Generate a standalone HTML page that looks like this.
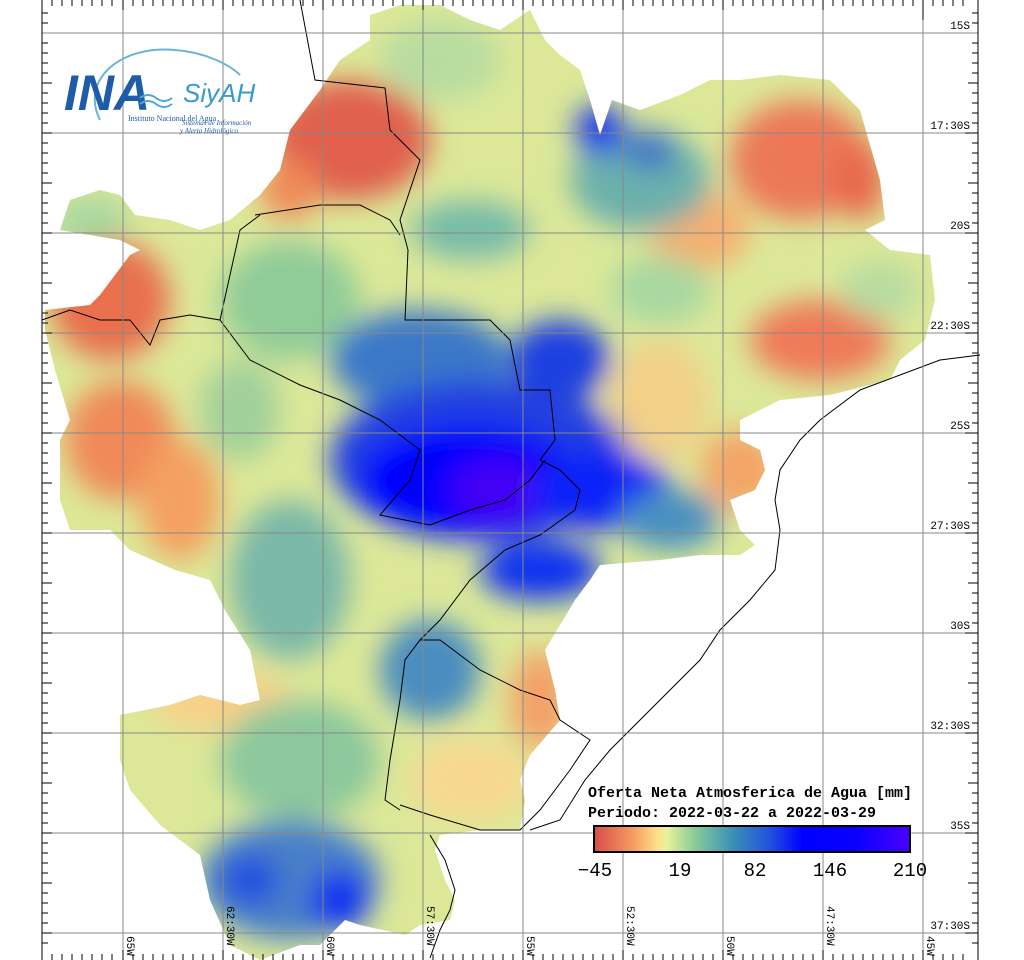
<!DOCTYPE html>
<html><head><meta charset="utf-8"><style>
body{margin:0;background:#fff;width:1024px;height:960px;overflow:hidden}
svg{display:block}
text{font-family:"Liberation Mono","DejaVu Sans Mono",monospace}
</style></head><body>
<svg width="1024" height="960" viewBox="0 0 1024 960" xmlns="http://www.w3.org/2000/svg">
<defs>
<clipPath id="basin"><polygon points="370,15 400,5 440,5 470,20 500,30 530,10 545,40 560,55 580,70 590,100 600,135 612,100 640,110 680,95 710,80 740,80 780,75 830,80 860,110 880,180 885,220 865,230 890,250 930,255 935,300 925,340 900,360 890,380 830,395 780,400 740,420 740,440 760,450 765,470 755,490 730,500 740,530 755,545 740,555 700,555 660,560 600,565 590,580 575,600 560,625 545,650 555,690 560,720 530,755 520,780 525,800 520,830 480,830 440,835 435,850 445,880 455,900 450,920 420,925 405,935 360,925 345,920 320,945 300,945 260,960 230,945 210,900 200,855 160,825 130,790 120,760 120,715 170,705 200,695 240,705 260,700 250,650 225,610 210,580 175,570 130,550 110,530 70,530 60,500 60,440 70,420 55,370 45,330 45,310 90,305 100,295 130,255 140,250 120,240 60,230 70,200 100,190 120,195 135,215 170,220 200,230 230,220 260,195 280,170 290,130 320,90 340,60 370,40"/></clipPath>
<filter id="bl" x="-20%" y="-20%" width="140%" height="140%"><feGaussianBlur stdDeviation="14"/></filter>
<linearGradient id="cb" x1="0" x2="1" y1="0" y2="0">
<stop offset="0" stop-color="#d94c4c"/><stop offset="0.12" stop-color="#f49a60"/><stop offset="0.2" stop-color="#fde08a"/><stop offset="0.23" stop-color="#e8f29a"/><stop offset="0.32" stop-color="#88cc98"/><stop offset="0.44" stop-color="#3a8fb8"/><stop offset="0.56" stop-color="#2050e0"/><stop offset="0.66" stop-color="#0000ff"/><stop offset="0.82" stop-color="#0800ff"/><stop offset="1" stop-color="#4a00ff"/>
</linearGradient>
</defs>
<g clip-path="url(#basin)">
<rect x="0" y="0" width="1024" height="960" fill="#dce898"/>
<g filter="url(#bl)">
<ellipse cx="440" cy="60" rx="60" ry="40" fill="#b8dca0"/>
<ellipse cx="350" cy="140" rx="80" ry="60" fill="#e0604e"/>
<ellipse cx="290" cy="190" rx="30" ry="30" fill="#f08a58"/>
<ellipse cx="110" cy="300" rx="60" ry="60" fill="#e8704e"/>
<ellipse cx="120" cy="440" rx="55" ry="60" fill="#f08a58"/>
<ellipse cx="180" cy="500" rx="40" ry="60" fill="#f4a060"/>
<ellipse cx="90" cy="220" rx="40" ry="25" fill="#a8d8a0"/>
<ellipse cx="800" cy="160" rx="70" ry="60" fill="#ec7858"/>
<ellipse cx="860" cy="180" rx="25" ry="40" fill="#e8684e"/>
<ellipse cx="700" cy="230" rx="50" ry="40" fill="#f4b070"/>
<ellipse cx="820" cy="340" rx="70" ry="40" fill="#ee7a58"/>
<ellipse cx="880" cy="290" rx="40" ry="30" fill="#b8dca0"/>
<ellipse cx="740" cy="470" rx="40" ry="40" fill="#f4a468"/>
<ellipse cx="660" cy="400" rx="50" ry="60" fill="#f2d088"/>
<ellipse cx="660" cy="290" rx="50" ry="35" fill="#a8d8a0"/>
<ellipse cx="540" cy="700" rx="30" ry="50" fill="#f4a068"/>
<ellipse cx="470" cy="780" rx="60" ry="40" fill="#f8d890"/>
<ellipse cx="220" cy="700" rx="70" ry="30" fill="#f8d088"/>
<ellipse cx="290" cy="300" rx="70" ry="60" fill="#90cc98"/>
<ellipse cx="240" cy="410" rx="40" ry="50" fill="#a0d09a"/>
<ellipse cx="470" cy="230" rx="60" ry="30" fill="#78bca8"/>
<ellipse cx="640" cy="180" rx="70" ry="50" fill="#6cb0ac"/>
<ellipse cx="600" cy="130" rx="25" ry="25" fill="#1a38e8"/>
<ellipse cx="650" cy="150" rx="25" ry="20" fill="#3a70c8"/>
<ellipse cx="290" cy="580" rx="60" ry="80" fill="#7ab8a8"/>
<ellipse cx="430" cy="670" rx="50" ry="50" fill="#4a8cc0"/>
<ellipse cx="300" cy="760" rx="80" ry="60" fill="#8cc89c"/>
<ellipse cx="290" cy="880" rx="90" ry="60" fill="#4a80c8"/>
<ellipse cx="340" cy="900" rx="30" ry="30" fill="#0a30f0"/>
<ellipse cx="250" cy="880" rx="30" ry="25" fill="#2050e0"/>
<ellipse cx="420" cy="360" rx="90" ry="50" fill="#3a78c8"/>
<ellipse cx="560" cy="360" rx="50" ry="40" fill="#1a40e0"/>
<ellipse cx="480" cy="460" rx="150" ry="80" fill="#2040e0"/>
<ellipse cx="470" cy="480" rx="110" ry="55" fill="#0000ff"/>
<ellipse cx="500" cy="490" rx="50" ry="30" fill="#4400f4"/>
<ellipse cx="600" cy="490" rx="70" ry="40" fill="#0a20f8"/>
<ellipse cx="540" cy="570" rx="60" ry="30" fill="#0a30f0"/>
<ellipse cx="670" cy="520" rx="50" ry="30" fill="#4a90c0"/>
</g>
</g>
<g fill="none" stroke="#000" stroke-width="1">
<polyline points="300,0 315,80 385,88 390,130 420,160 400,220 408,250 405,320 460,320 490,320 510,340 520,390 550,390 555,440 540,460 560,470 580,490 575,510 540,535 505,550"/>
<polyline points="255,215 320,205 360,205 390,220 400,235"/>
<polyline points="220,320 250,360 300,385 340,400 380,420 400,435 420,450 410,480 380,515 430,525 470,510 505,500 530,480 545,460"/>
<polyline points="505,550 470,580 440,620 420,640 405,660 400,700 390,760 385,800 400,810"/>
<polyline points="420,640 440,640 480,670 520,690 550,700 560,720 590,740 570,770 540,810 520,830 480,830 430,815 400,805"/>
<polyline points="980,355 940,360 900,375 860,390 820,420 800,440 780,470 775,500 780,530 775,570 750,600 720,630 700,660 670,690 640,720 610,750 585,780 560,820 530,830"/>
<polyline points="42,320 70,310 100,320 130,320 150,345 160,320 190,315 220,320 240,230 260,215"/>
<polyline points="430,835 445,860 455,890 450,910 440,930 430,958"/>
</g>
<g stroke="#888" stroke-width="1">
<line x1="123" y1="0" x2="123" y2="955"/><line x1="223" y1="0" x2="223" y2="955"/><line x1="323" y1="0" x2="323" y2="955"/><line x1="423" y1="0" x2="423" y2="955"/><line x1="523" y1="0" x2="523" y2="955"/><line x1="623" y1="0" x2="623" y2="955"/><line x1="723" y1="0" x2="723" y2="955"/><line x1="823" y1="0" x2="823" y2="955"/><line x1="923" y1="0" x2="923" y2="955"/>
<line x1="42" y1="33" x2="978" y2="33"/><line x1="42" y1="133" x2="978" y2="133"/><line x1="42" y1="233" x2="978" y2="233"/><line x1="42" y1="333" x2="978" y2="333"/><line x1="42" y1="433" x2="978" y2="433"/><line x1="42" y1="533" x2="978" y2="533"/><line x1="42" y1="633" x2="978" y2="633"/><line x1="42" y1="733" x2="978" y2="733"/><line x1="42" y1="833" x2="978" y2="833"/><line x1="42" y1="933" x2="978" y2="933"/>
</g>
<g stroke="#000" stroke-width="1">
<line x1="42" y1="0" x2="42" y2="960"/><line x1="978" y1="0" x2="978" y2="960"/>
</g>
<g stroke="#000" stroke-width="1">
<path d="M42,13h6M42,23h6M42,43h6M42,53h6M42,63h6M42,73h6M42,83h10M42,93h6M42,103h6M42,113h6M42,123h6M42,133h10M42,143h6M42,153h6M42,163h6M42,173h6M42,183h10M42,193h6M42,203h6M42,213h6M42,223h6M42,233h10M42,243h6M42,253h6M42,263h6M42,273h6M42,283h10M42,293h6M42,303h6M42,313h6M42,323h6M42,333h10M42,343h6M42,353h6M42,363h6M42,373h6M42,383h10M42,393h6M42,403h6M42,413h6M42,423h6M42,433h10M42,443h6M42,453h6M42,463h6M42,473h6M42,483h10M42,493h6M42,503h6M42,513h6M42,523h6M42,533h10M42,543h6M42,553h6M42,563h6M42,573h6M42,583h10M42,593h6M42,603h6M42,613h6M42,623h6M42,633h10M42,643h6M42,653h6M42,663h6M42,673h6M42,683h10M42,693h6M42,703h6M42,713h6M42,723h6M42,733h10M42,743h6M42,753h6M42,763h6M42,773h6M42,783h10M42,793h6M42,803h6M42,813h6M42,823h6M42,833h10M42,843h6M42,853h6M42,863h6M42,873h6M42,883h10M42,893h6M42,903h6M42,913h6M42,923h6M42,933h10M42,943h6"/>
<path d="M978,13h-6M978,23h-6M978,43h-6M978,53h-6M978,63h-6M978,73h-6M978,83h-10M978,93h-6M978,103h-6M978,113h-6M978,123h-6M978,133h-13M978,143h-6M978,153h-6M978,163h-6M978,173h-6M978,183h-10M978,193h-6M978,203h-6M978,213h-6M978,223h-6M978,233h-13M978,243h-6M978,253h-6M978,263h-6M978,273h-6M978,283h-10M978,293h-6M978,303h-6M978,313h-6M978,323h-6M978,333h-13M978,343h-6M978,353h-6M978,363h-6M978,373h-6M978,383h-10M978,393h-6M978,403h-6M978,413h-6M978,423h-6M978,433h-13M978,443h-6M978,453h-6M978,463h-6M978,473h-6M978,483h-10M978,493h-6M978,503h-6M978,513h-6M978,523h-6M978,533h-13M978,543h-6M978,553h-6M978,563h-6M978,573h-6M978,583h-10M978,593h-6M978,603h-6M978,613h-6M978,623h-6M978,633h-13M978,643h-6M978,653h-6M978,663h-6M978,673h-6M978,683h-10M978,693h-6M978,703h-6M978,713h-6M978,723h-6M978,733h-13M978,743h-6M978,753h-6M978,763h-6M978,773h-6M978,783h-10M978,793h-6M978,803h-6M978,813h-6M978,823h-6M978,833h-13M978,843h-6M978,853h-6M978,863h-6M978,873h-6M978,883h-10M978,893h-6M978,903h-6M978,913h-6M978,923h-6M978,933h-13M978,943h-6"/>
</g>
<g font-size="11" fill="#000" text-anchor="end">
<text x="970" y="29">15S</text><text x="970" y="129">17:30S</text><text x="970" y="229">20S</text><text x="970" y="329">22:30S</text><text x="970" y="429">25S</text><text x="970" y="529">27:30S</text><text x="970" y="629">30S</text><text x="970" y="729">32:30S</text><text x="970" y="829">35S</text><text x="970" y="929">37:30S</text>
</g>
<g font-size="11" fill="#000">
<text transform="translate(127,936) rotate(90)">65W</text>
<text transform="translate(227,906) rotate(90)">62:30W</text>
<text transform="translate(327,936) rotate(90)">60W</text>
<text transform="translate(427,906) rotate(90)">57:30W</text>
<text transform="translate(527,936) rotate(90)">55W</text>
<text transform="translate(627,906) rotate(90)">52:30W</text>
<text transform="translate(727,936) rotate(90)">50W</text>
<text transform="translate(827,906) rotate(90)">47:30W</text>
<text transform="translate(927,936) rotate(90)">45W</text>
</g>
<g>
<path d="M100,120 C80,80 120,45 175,50 C205,52 230,65 240,75" fill="none" stroke="#6ab4d8" stroke-width="2"/>
<text x="64" y="110" font-size="50" font-style="italic" font-weight="bold" fill="#1f5ca8" style="font-family:'Liberation Sans',sans-serif">INA</text>
<path d="M140,98 q8,-6 16,0 t16,0 M140,104 q8,-6 16,0 t16,0" fill="none" stroke="#4aa8d8" stroke-width="2"/>
<text x="183" y="102" font-size="26" font-style="italic" fill="#3a9ad0" style="font-family:'Liberation Sans',sans-serif">SiyAH</text>
<text x="128" y="121" font-size="8" fill="#1f5ca8" style="font-family:'Liberation Serif',serif">Instituto Nacional del Agua</text>
<text x="182" y="125" font-size="7" font-style="italic" fill="#1f5ca8" style="font-family:'Liberation Serif',serif">Sistemas de Información</text>
<text x="180" y="133" font-size="7" font-style="italic" fill="#1f5ca8" style="font-family:'Liberation Serif',serif">y Alerta Hidrológico</text>
</g>
<g font-size="15" fill="#000" font-weight="bold">
<text x="588" y="797">Oferta Neta Atmosferica de Agua [mm]</text>
<text x="588" y="817">Periodo: 2022-03-22 a 2022-03-29</text>
</g>
<rect x="594" y="826" width="316" height="26" fill="url(#cb)" stroke="#000" stroke-width="2"/>
<g font-size="19" fill="#000" text-anchor="middle" style="font-family:'Liberation Sans',sans-serif">
<text x="595" y="876">−45</text><text x="680" y="876">19</text><text x="755" y="876">82</text><text x="830" y="876">146</text><text x="910" y="876">210</text>
</g>
<path d="M52,0v6M62,0v6M72,0v6M82,0v6M92,0v6M102,0v6M112,0v6M123,0v10M133,0v6M143,0v6M153,0v6M163,0v6M173,0v6M183,0v6M193,0v6M203,0v6M213,0v6M223,0v10M233,0v6M243,0v6M253,0v6M263,0v6M273,0v6M283,0v6M293,0v6M303,0v6M313,0v6M323,0v10M333,0v6M343,0v6M353,0v6M363,0v6M373,0v6M383,0v6M393,0v6M403,0v6M413,0v6M423,0v10M433,0v6M443,0v6M453,0v6M463,0v6M473,0v6M483,0v6M493,0v6M503,0v6M513,0v6M523,0v10M533,0v6M543,0v6M553,0v6M563,0v6M573,0v6M583,0v6M593,0v6M603,0v6M613,0v6M623,0v10M633,0v6M643,0v6M653,0v6M663,0v6M673,0v6M683,0v6M693,0v6M703,0v6M713,0v6M723,0v10M733,0v6M743,0v6M753,0v6M763,0v6M773,0v6M783,0v6M793,0v6M803,0v6M813,0v6M823,0v10M833,0v6M843,0v6M853,0v6M863,0v6M873,0v6M883,0v6M893,0v6M903,0v6M913,0v6M923,0v20M933,0v6M943,0v6M953,0v6M963,0v6" stroke="#000"/>
<path d="M52,960v-6M62,960v-6M72,960v-6M82,960v-6M92,960v-6M102,960v-6M112,960v-6M123,960v-10M133,960v-6M143,960v-6M153,960v-6M163,960v-6M173,960v-6M183,960v-6M193,960v-6M203,960v-6M213,960v-6M223,960v-10M233,960v-6M243,960v-6M253,960v-6M263,960v-6M273,960v-6M283,960v-6M293,960v-6M303,960v-6M313,960v-6M323,960v-10M333,960v-6M343,960v-6M353,960v-6M363,960v-6M373,960v-6M383,960v-6M393,960v-6M403,960v-6M413,960v-6M423,960v-10M433,960v-6M443,960v-6M453,960v-6M463,960v-6M473,960v-6M483,960v-6M493,960v-6M503,960v-6M513,960v-6M523,960v-10M533,960v-6M543,960v-6M553,960v-6M563,960v-6M573,960v-6M583,960v-6M593,960v-6M603,960v-6M613,960v-6M623,960v-10M633,960v-6M643,960v-6M653,960v-6M663,960v-6M673,960v-6M683,960v-6M693,960v-6M703,960v-6M713,960v-6M723,960v-10M733,960v-6M743,960v-6M753,960v-6M763,960v-6M773,960v-6M783,960v-6M793,960v-6M803,960v-6M813,960v-6M823,960v-10M833,960v-6M843,960v-6M853,960v-6M863,960v-6M873,960v-6M883,960v-6M893,960v-6M903,960v-6M913,960v-6M923,960v-10M933,960v-6M943,960v-6M953,960v-6M963,960v-6" stroke="#000"/>
</svg>
</body></html>
